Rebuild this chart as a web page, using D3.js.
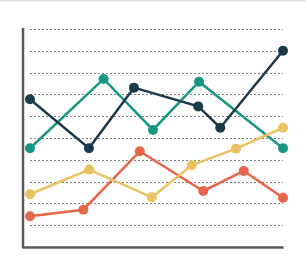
<!DOCTYPE html>
<html>
<head>
<meta charset="utf-8">
<script src="https://cdn.jsdelivr.net/npm/d3@7"></script>
<style>
  body { margin: 0; background: #fff; }
  svg { display: block; }
</style>
</head>
<body>
<div id="chart"></div>
<script>
// data (x in 0..100 along the axis, y in 0..10)
var navyX = [0, 23.3, 41.1, 66.5, 75.2, 100];
var navyY = [6.78, 4.53, 7.31, 6.45, 5.47, 9.0];
var tealX = [0, 29.1, 48.6, 66.8, 100];
var tealY = [4.53, 7.71, 5.37, 7.58, 4.53];
var yellowX = [0, 23.4, 48.2, 63.9, 81.4, 100];
var yellowY = [2.42, 3.55, 2.28, 3.75, 4.51, 5.47];
var orangeX = [0, 21.1, 43.4, 68.5, 84.5, 100];
var orangeY = [1.41, 1.71, 4.39, 2.57, 3.49, 2.26];
var gridTicks = [1, 2, 3, 4, 5, 6, 7, 8, 9, 10];

var width = 306, height = 271;
var svg = d3.select("#chart").append("svg").attr("width", width).attr("height", height);

// thin gray band at the very top
svg.append("rect").attr("x", 0).attr("y", 0).attr("width", width).attr("height", 1.5).style("fill", "#e2e2e2");

var x_scale = d3.scaleLinear().domain([0, 100]).range([30, 283]);
var y_scale = d3.scaleLinear().domain([0, 10]).range([247, 29]);

// dotted grid lines
svg.append("g").selectAll("line")
    .data(gridTicks)
    .enter()
    .append("line")
    .attr("x1", 30)
    .attr("x2", 283)
    .attr("y1", function (d) { return Math.round(y_scale(d)) + 0.5; })
    .attr("y2", function (d) { return Math.round(y_scale(d)) + 0.5; })
    .style("stroke", "#808080")
    .style("stroke-width", 1.2)
    .style("stroke-dasharray", "2,2");

// axes
var y_axis = d3.axisLeft(y_scale).ticks(0).tickSize(0).tickFormat("");
var x_axis = d3.axisBottom(d3.scaleLinear().domain([0, 100]).range([22, 283])).ticks(0).tickSize(0).tickFormat("");
svg.append("g").attr("transform", "translate(23,0)").call(y_axis)
    .select(".domain").attr("d", "M0,28V248").style("stroke", "#585858").style("stroke-width", 2.5);
svg.append("g").attr("transform", "translate(0,247)").call(x_axis)
    .select(".domain").style("stroke", "#585858").style("stroke-width", 2.5);

var series = [
    { xs: tealX, ys: tealY, color: "#17977f" },
    { xs: orangeX, ys: orangeY, color: "#e8654a" },
    { xs: yellowX, ys: yellowY, color: "#ebc262" },
    { xs: navyX, ys: navyY, color: "#1b3a4b" }
];

var line = d3.line()
    .x(function (d) { return x_scale(d[0]); })
    .y(function (d) { return y_scale(d[1]); });

series.forEach(function (s) {
    var pts = d3.zip(s.xs, s.ys);
    svg.append("path")
        .datum(pts)
        .attr("d", line)
        .style("fill", "none")
        .style("stroke", s.color)
        .style("stroke-width", 2.5);
    svg.append("g").selectAll("circle")
        .data(pts)
        .enter()
        .append("circle")
        .attr("cx", function (d) { return x_scale(d[0]); })
        .attr("cy", function (d) { return y_scale(d[1]); })
        .attr("r", 5)
        .style("fill", s.color);
});
</script>
</body>
</html>
